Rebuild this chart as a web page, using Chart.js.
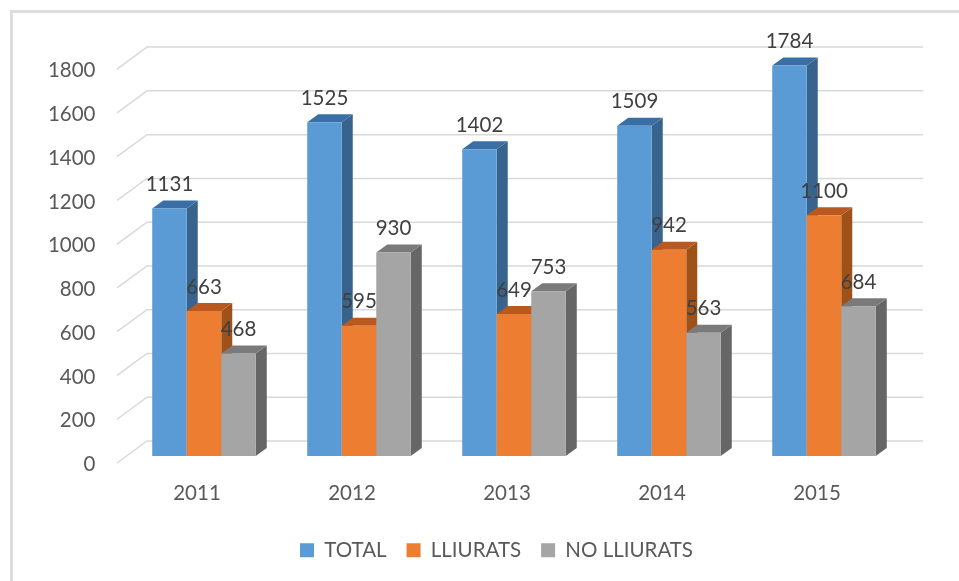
<!DOCTYPE html>
<html>
<head>
<meta charset="utf-8">
<title>Lliurats</title>
<script src="https://cdn.jsdelivr.net/npm/chart.js@4/dist/chart.umd.min.js"></script>
<style>
  html, body { margin: 0; padding: 0; background: #fff; }
  #frame { position: absolute; left: 10px; top: 10px; right: 0; bottom: 0; border-left: 3px solid #dcdcdc; border-top: 3px solid #dcdcdc; }
  #chart { position: absolute; left: 0; top: 0; }
</style>
</head>
<body>
<div id="frame"></div>
<canvas id="chart" width="959" height="581"></canvas>
<script>
// =======================
// Data
// =======================
const years = ["2011", "2012", "2013", "2014", "2015"];
const total = [1131, 1525, 1402, 1509, 1784];
const lliurats = [663, 595, 649, 942, 1100];
const noLliurats = [468, 930, 753, 563, 684];
const yTicks = [0, 200, 400, 600, 800, 1000, 1200, 1400, 1600, 1800];

const FONT = "Lato, 'Open Sans', sans-serif";

// top and side colours of each series
const shades = {
  TOTAL: { top: "#3A6FA5", side: "#37638D" },
  LLIURATS: { top: "#B9591F", side: "#9E5119" },
  "NO LLIURATS": { top: "#7A7A7A", side: "#666666" }
};

// =======================
// 3D look, gridlines and value labels
// =======================
const depth = { x: 11, y: 8 };

function drawWall(chart) {
  const { ctx, scales } = chart;
  ctx.save();
  ctx.strokeStyle = "#d9d9d9";
  ctx.lineWidth = 1.5;
  yTicks.forEach(v => {
    const py = scales.y.getPixelForValue(v);
    ctx.beginPath();
    ctx.moveTo(117, py);
    ctx.lineTo(147, py - 22);
    ctx.lineTo(923, py - 22);
    ctx.stroke();
  });
  ctx.restore();
}

function drawDepth(chart, index) {
  const { ctx } = chart;
  const shade = shades[chart.data.datasets[index].label];
  ctx.save();
  chart.getDatasetMeta(index).data.forEach(bar => {
    const right = bar.x + bar.width / 2;
    const left = bar.x - bar.width / 2;
    // side
    ctx.fillStyle = shade.side;
    ctx.beginPath();
    ctx.moveTo(right, bar.y);
    ctx.lineTo(right + depth.x, bar.y - depth.y);
    ctx.lineTo(right + depth.x, bar.base - depth.y);
    ctx.lineTo(right, bar.base);
    ctx.closePath();
    ctx.fill();
    // top
    ctx.fillStyle = shade.top;
    ctx.beginPath();
    ctx.moveTo(left, bar.y);
    ctx.lineTo(left + depth.x, bar.y - depth.y);
    ctx.lineTo(right + depth.x, bar.y - depth.y);
    ctx.lineTo(right, bar.y);
    ctx.closePath();
    ctx.fill();
  });
  ctx.restore();
}

function drawValues(chart) {
  const { ctx } = chart;
  ctx.save();
  ctx.font = "20.5px " + FONT;
  ctx.fillStyle = "#404040";
  ctx.textAlign = "center";
  ctx.textBaseline = "middle";
  chart.data.datasets.forEach((ds, i) => {
    chart.getDatasetMeta(i).data.forEach((bar, j) => {
      ctx.fillText(ds.data[j], bar.x, bar.y - 24);
    });
  });
  ctx.restore();
}

const wallPlugin = {
  id: "wall",
  // series go left to right here, the library would paint them the other way round
  beforeDatasetsDraw(chart) {
    drawWall(chart);
    chart.data.datasets.forEach((ds, i) => {
      drawDepth(chart, i);
      chart.getDatasetMeta(i).controller.draw();
    });
    drawValues(chart);
    return false;
  }
};

// =======================
// Chart
// =======================
new Chart(document.getElementById("chart"), {
  type: "bar",
  data: {
    labels: years,
    datasets: [
      { label: "TOTAL", data: total, backgroundColor: "#5B9BD5", yAxisID: "yBar" },
      { label: "LLIURATS", data: lliurats, backgroundColor: "#ED7D31", yAxisID: "yBar" },
      { label: "NO LLIURATS", data: noLliurats, backgroundColor: "#A5A5A5", yAxisID: "yBar" }
    ]
  },
  options: {
    responsive: false,
    animation: false,
    devicePixelRatio: 1,
    layout: { padding: { top: 47, left: 40, right: 6, bottom: 10.5 } },
    datasets: { bar: { categoryPercentage: 0.668, barPercentage: 1, borderWidth: 0 } },
    scales: {
      x: {
        grid: { display: false },
        border: { display: false },
        afterFit: s => { s.height = 57; },
        ticks: {
          color: "#595959",
          font: { family: FONT, size: 20.5 },
          padding: 10,
          labelOffset: -7,
          maxRotation: 0
        }
      },
      // tick labels sit on the front edge of the floor
      y: {
        min: 0,
        max: 1901,
        afterFit: s => { s.width = 86.5; },
        afterBuildTicks: s => { s.ticks = yTicks.map(v => ({ value: v })); },
        grid: { display: false },
        border: { display: false },
        ticks: {
          color: "#595959",
          font: { family: FONT, size: 20.5 },
          padding: 23,
          labelOffset: 1.5,
          callback: v => String(v)
        }
      },
      // same scale, the bars stand a little further back on the floor
      yBar: {
        position: "right",
        min: -32,
        max: 1869,
        afterFit: s => { s.width = 51.5; },
        grid: { display: false },
        border: { display: false },
        ticks: { display: false }
      }
    },
    plugins: {
      tooltip: { enabled: false },
      legend: {
        position: "bottom",
        labels: {
          color: "#595959",
          font: { family: FONT, size: 20.5 },
          boxWidth: 14,
          boxHeight: 14,
          padding: 20
        }
      }
    }
  },
  plugins: [wallPlugin]
});
</script>
</body>
</html>
